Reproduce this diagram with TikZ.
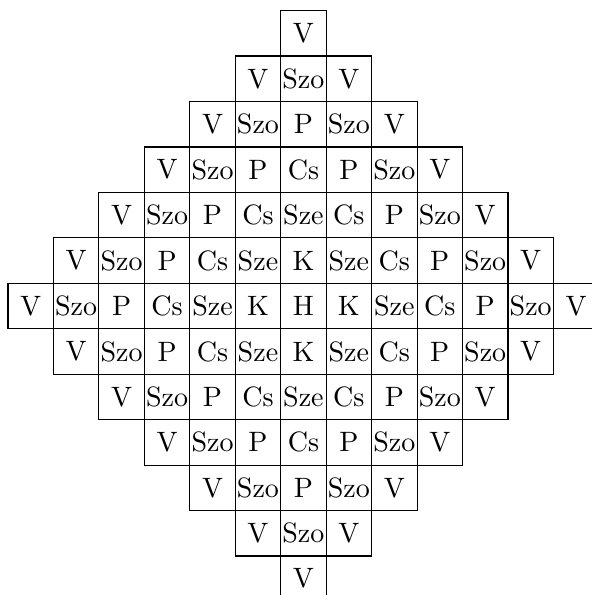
\documentclass[tikz,border=0pt]{standalone}
\usepackage{tikz}

% label of a cell from its distance to the centre
\newcommand{\distlabel}[1]{\ifcase#1 H\or K\or Sze\or Cs\or P\or Szo\or V\fi}

\begin{document}
\begin{tikzpicture}[x=0.57cm, y=0.57cm, cellbox/.style={draw, thin}]
    \useasboundingbox (-6.676,-6.358) rectangle (6.327,6.733);

    % Cells of the diamond
    \foreach \i in {-6,...,6} {
        \foreach \j in {-6,...,6} {
            \pgfmathtruncatemacro{\d}{abs(\i)+abs(\j)}
            \ifnum\d<7
                \draw[cellbox] (\i-0.5,\j-0.5) rectangle (\i+0.5,\j+0.5);
                \node[inner sep=0pt] (c\i\j) at (\i,\j) {\distlabel{\d}};
            \fi
        }
    }
\end{tikzpicture}
\end{document}
